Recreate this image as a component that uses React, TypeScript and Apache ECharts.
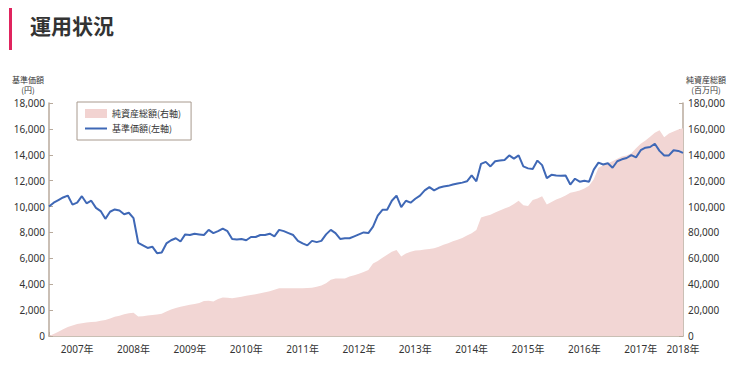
import React, { useEffect, useRef } from "react";
import * as echarts from "echarts";

const yearLabels = ["2007年", "2008年", "2009年", "2010年", "2011年", "2012年", "2013年", "2014年", "2015年", "2016年", "2017年", "2018年"];

// monthly categories Jan 2007 .. Apr 2018
const months: string[] = [];
for (let i = 0; i < 136; i++) {
  const y = 2007 + Math.floor(i / 12);
  const m = (i % 12) + 1;
  months.push(`${y}/${m < 10 ? "0" + m : m}`);
}

// 基準価額 (円)
const navValues = [
  10000, 10300, 10500, 10700, 10850, 10150, 10300, 10800, 10250, 10450, 9900, 9650,
  9050, 9600, 9780, 9700, 9400, 9520, 9100, 7200, 7000, 6800, 6900, 6400,
  6450, 7150, 7400, 7550, 7300, 7850, 7800, 7900, 7850, 7800, 8200, 7950,
  8100, 8300, 8100, 7500, 7450, 7500, 7400, 7650, 7650, 7800, 7800, 7900,
  7700, 8200, 8100, 7950, 7800, 7350, 7150, 7000, 7350, 7250, 7350, 7850,
  8200, 7950, 7500, 7550, 7550, 7700, 7850, 8000, 7950, 8450, 9300, 9750,
  9750, 10450, 10850, 9950, 10450, 10300, 10600, 10850, 11250, 11500, 11250, 11450,
  11550, 11600, 11700, 11780, 11850, 11950, 12400, 11950, 13300, 13450, 13100, 13500,
  13550, 13600, 13950, 13700, 13950, 13100, 12950, 12900, 13550, 13200, 12200, 12450,
  12400, 12380, 12400, 11700, 12150, 11920, 12000, 11920, 12850, 13390, 13250, 13350,
  13000, 13500, 13650, 13750, 13980, 13800, 14350, 14550, 14600, 14850, 14300, 13950,
  13950, 14350, 14300, 14150,
];

// 純資産総額 (百万円)
const assetValues = [
  0, 1500, 3300, 5200, 6900, 8100, 9200, 9900, 10400, 10800, 11100, 11700,
  12300, 13500, 14800, 15700, 16800, 17500, 18000, 15000, 15200, 15900, 16300, 16700,
  17100, 19000, 20400, 21600, 22600, 23400, 24200, 24800, 25400, 27000, 27300, 26700,
  28500, 29800, 29500, 29100, 29700, 30400, 31000, 31600, 32300, 33000, 33800, 34600,
  35800, 36800, 36800, 36800, 36800, 36800, 36900, 37000, 37300, 38000, 39000, 40800,
  43500, 44500, 44500, 44500, 45900, 47000, 48000, 49500, 51000, 56100, 58000, 60500,
  62800, 65000, 66400, 61500, 63800, 65000, 66000, 66300, 66800, 67200, 67700, 69000,
  70500, 71700, 73200, 74300, 75700, 77600, 79400, 81900, 91500, 92800, 93600, 95500,
  97000, 98500, 99800, 102000, 104500, 101000, 100400, 105000, 106300, 108000, 101500, 103500,
  105500, 106800, 108600, 110600, 111500, 112500, 114000, 116000, 121000, 130000, 132000, 133400,
  135000, 137000, 138700, 139500, 141100, 145000, 148500, 151000, 154000, 157000, 159000, 153500,
  156500, 158000, 159500, 160400,
];

const leftAxisName = ["基準価額", "(円)"];
const rightAxisName = ["純資産総額", "(百万円)"];

const AXIS_COLOR = "#b8aa9c";
const FONT = "'Noto Sans', 'Noto Sans CJK JP', sans-serif";
const CJK = "'Noto Sans CJK JP', sans-serif";

const nameText = (text: string, x: number, y: number) => ({
  type: "text",
  x,
  y,
  style: { text, fontSize: 8, fill: "#333", align: "center", verticalAlign: "middle", fontFamily: CJK },
});

export default function App() {
  const ref = useRef<HTMLDivElement>(null);
  useEffect(() => {
    if (!ref.current) return;
    document.body.style.margin = "0";
    const chart = echarts.init(ref.current, null, { renderer: "svg" });
    const last = months.length - 1;
    chart.setOption({
      animation: false,
      textStyle: { fontFamily: FONT },
      grid: { left: 49, right: 54, top: 103, bottom: 30, containLabel: false },
      legend: {
        orient: "vertical",
        left: 77,
        top: 102,
        padding: [7, 10, 7, 8],
        itemGap: 6,
        itemWidth: 22,
        itemHeight: 9,
        borderColor: "#a89a8e",
        borderWidth: 1,
        textStyle: { fontSize: 9, color: "#333", fontFamily: CJK },
        data: [
          { name: "純資産総額(右軸)", icon: "path://M0,0 L22,0 L22,9 L0,9 Z", itemStyle: { color: "#f2d3d1" } },
          { name: "基準価額(左軸)", icon: "path://M0,0 L22,0 L22,2 L0,2 Z", itemStyle: { color: "#3f68b6" } },
        ],
      },
      xAxis: {
        type: "category",
        data: months,
        boundaryGap: false,
        axisLine: { lineStyle: { color: AXIS_COLOR, width: 1.5 } },
        axisTick: {
          show: true,
          inside: true,
          length: 4,
          interval: (i: number) => i % 12 === 0,
          lineStyle: { color: AXIS_COLOR },
        },
        axisLabel: {
          interval: (i: number) => i % 12 === 6 || i === last,
          formatter: (_v: string, i: number) => (i === last ? yearLabels[yearLabels.length - 1] : yearLabels[Math.floor(i / 12)]),
          fontSize: 10,
          color: "#333",
          margin: 8,
          hideOverlap: false,
        },
        splitLine: { show: false },
      },
      yAxis: [
        {
          type: "value",
          min: 0,
          max: 18000,
          interval: 2000,
          position: "left",
          axisLine: { show: true, lineStyle: { color: AXIS_COLOR, width: 1.5 } },
          axisTick: { show: true, inside: true, length: 4, lineStyle: { color: AXIS_COLOR } },
          axisLabel: {
            fontSize: 10,
            color: "#333",
            margin: 4,
            formatter: (v: number) => v.toLocaleString("en-US"),
          },
          splitLine: { show: false },
        },
        {
          type: "value",
          min: 0,
          max: 180000,
          interval: 20000,
          position: "right",
          axisLine: { show: true, lineStyle: { color: AXIS_COLOR, width: 1.5 } },
          axisTick: { show: true, inside: true, length: 4, lineStyle: { color: AXIS_COLOR } },
          axisLabel: {
            fontSize: 10,
            color: "#333",
            margin: 5,
            formatter: (v: number) => v.toLocaleString("en-US"),
          },
          splitLine: { show: false },
        },
      ],
      series: [
        {
          name: "純資産総額(右軸)",
          type: "line",
          yAxisIndex: 1,
          data: assetValues,
          showSymbol: false,
          lineStyle: { width: 0, color: "#f2d3d1" },
          itemStyle: { color: "#f2d3d1" },
          areaStyle: { color: "#f2d6d4", opacity: 1 },
          z: 1,
        },
        {
          name: "基準価額(左軸)",
          type: "line",
          yAxisIndex: 0,
          data: navValues,
          showSymbol: false,
          lineStyle: { width: 2, color: "#3f68b6" },
          itemStyle: { color: "#3f68b6" },
          z: 3,
        },
      ],
      graphic: [
        { type: "rect", left: 9, top: 8, shape: { width: 3, height: 42 }, style: { fill: "#e0245e" } },
        {
          type: "text",
          left: 30,
          top: 14,
          style: { text: "運用状況", fontSize: 21, fontWeight: "bold", fill: "#333", fontFamily: CJK },
        },
        nameText(leftAxisName[0], 28, 79.5),
        nameText(leftAxisName[1], 28, 89.5),
        nameText(rightAxisName[0], 706, 79.5),
        nameText(rightAxisName[1], 706, 89.5),
      ],
    });
    return () => chart.dispose();
  }, []);
  return <div ref={ref} style={{ width: 737, height: 366 }} />;
}
